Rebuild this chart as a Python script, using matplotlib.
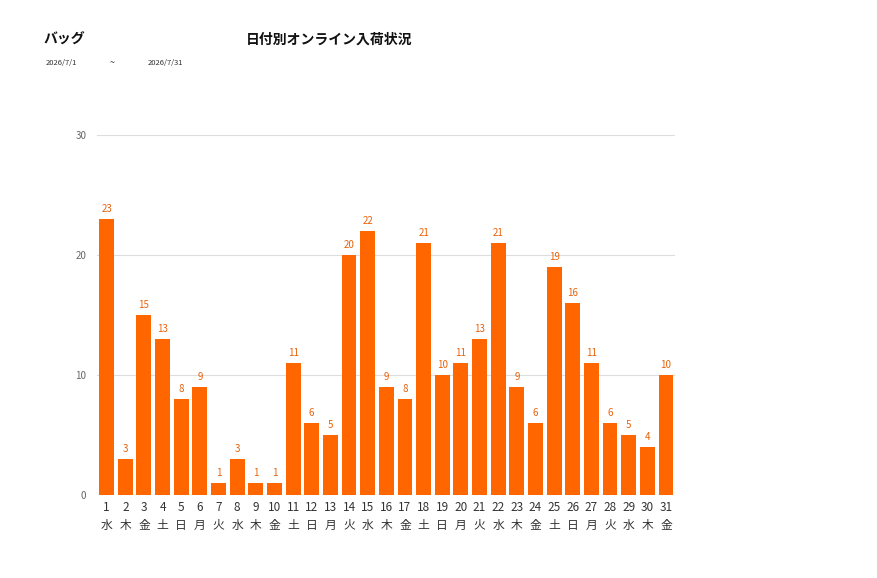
import matplotlib
matplotlib.use("Agg")
import matplotlib.pyplot as plt

plt.rcParams['font.family'] = ['Noto Sans CJK JP', 'DejaVu Sans']

days = list(range(1, 32))
weekdays = ["水","木","金","土","日","月","火"] * 5
weekdays = weekdays[:31]
values = [23,3,15,13,8,9,1,3,1,1,11,6,5,20,22,9,8,21,10,11,13,21,9,6,19,16,11,6,5,4,10]
yticks = [0, 10, 20, 30]

fig = plt.figure(figsize=(8.77, 5.78), dpi=100)
ax = fig.add_axes([0.111, 0.1436, 0.659, 0.6228])
x = list(range(len(days)))
ax.bar(x, values, width=0.8, color="#FF6600")
for xi, v in zip(x, values):
    ax.text(xi, v + 0.4, str(v), ha="center", va="bottom", fontsize=7, color="#E8620A")
ax.set_xlim(-0.5, len(days) - 0.5)
ax.set_ylim(0, 30)
ax.set_yticks(yticks)
ax.set_yticklabels([str(t) for t in yticks], fontsize=7, color="#666666")
ax.set_xticks(x)
ax.set_xticklabels([f"{d}\n{w}" for d, w in zip(days, weekdays)], fontsize=8.5, color="#333333", linespacing=1.5)
ax.tick_params(axis="both", length=0, pad=8)
ax.tick_params(axis="x", pad=4)
ax.grid(axis="y", color="#DDDDDD", linewidth=0.8)
ax.set_axisbelow(True)
for s in ax.spines.values():
    s.set_visible(False)

fig.text(0.05, 0.925, "バッグ", fontsize=10, fontweight="bold", color="#111111")
fig.text(0.28, 0.925, "日付別オンライン入荷状況", fontsize=10, fontweight="bold", color="#111111")
fig.text(0.052, 0.887, "2026/7/1", fontsize=5.5, color="#333333")
fig.text(0.125, 0.887, "~", fontsize=6.5, color="#333333")
fig.text(0.168, 0.887, "2026/7/31", fontsize=5.5, color="#333333")

fig.savefig("out.png", dpi=100)
